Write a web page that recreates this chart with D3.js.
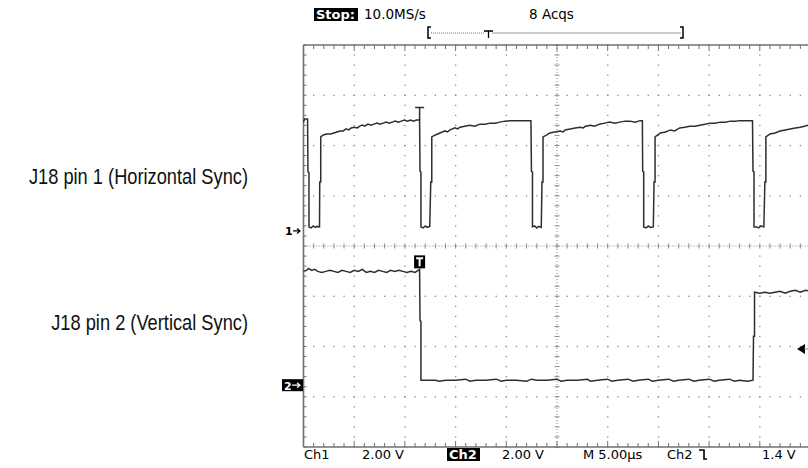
<!DOCTYPE html>
<html>
<head>
<meta charset="utf-8">
<script src="https://cdn.jsdelivr.net/npm/d3@7"></script>
<style>
  body { margin: 0; background: #fff; }
  svg { display: block; }
</style>
</head>
<body>
<div id="chart-area"></div>
<script>
// ---- data (time in us, volts) ----
var ch1 = [
  [0.00,4.33],[0.10,4.45],[0.40,4.45],[0.44,2.35],[0.54,2.33],[0.54,0.16],[0.75,0.12],[0.95,0.20],
  [1.15,0.14],[1.35,0.18],[1.58,0.16],[1.60,1.95],[1.70,1.95],[1.70,3.74],[1.95,3.82],[2.30,3.86],
  [2.70,3.86],[3.00,3.90],[3.30,3.94],[3.60,3.98],[3.90,3.98],[4.20,4.06],[4.45,4.02],[4.70,4.10],
  [5.00,4.13],[5.30,4.10],[5.55,4.17],[5.80,4.21],[6.05,4.17],[6.35,4.25],[6.65,4.21],[6.95,4.25],
  [7.25,4.29],[7.55,4.25],[7.85,4.29],[8.15,4.33],[8.45,4.29],[8.75,4.33],[9.05,4.37],[9.35,4.33],
  [9.65,4.37],[9.95,4.41],[10.25,4.37],[10.55,4.41],[10.85,4.37],[11.15,4.41],[11.45,4.41],
  [11.49,2.37],[11.58,2.35],[11.58,0.16],[11.80,0.12],[12.00,0.20],[12.20,0.14],[12.45,0.18],
  [12.55,1.95],[12.65,1.95],[12.65,3.74],[13.00,3.82],[13.46,3.90],[13.95,3.98],[14.20,3.94],
  [14.45,4.02],[14.94,4.10],[15.20,4.06],[15.43,4.13],[15.90,4.17],[16.42,4.21],[16.90,4.17],
  [17.40,4.25],[17.90,4.25],[18.39,4.29],[18.90,4.29],[19.37,4.33],[19.87,4.37],[20.46,4.39],
  [22.43,4.39],[22.48,2.37],[22.58,2.35],[22.58,0.16],[22.80,0.20],[23.00,0.12],[23.20,0.18],
  [23.45,0.14],[23.52,1.95],[23.62,1.95],[23.62,3.74],[24.00,3.82],[24.30,3.90],[24.80,3.94],
  [25.30,3.98],[25.60,3.94],[25.80,4.02],[26.30,4.06],[26.80,4.10],[27.30,4.13],[27.60,4.10],
  [27.80,4.17],[28.30,4.21],[28.70,4.17],[29.20,4.25],[29.70,4.29],[30.20,4.33],[30.70,4.29],
  [31.20,4.33],[31.70,4.37],[32.20,4.37],[32.70,4.33],[33.20,4.39],[33.42,4.39],[33.45,2.37],
  [33.55,2.35],[33.55,0.16],[33.80,0.12],[34.00,0.20],[34.20,0.14],[34.50,0.16],[34.57,1.95],
  [34.67,1.95],[34.67,3.74],[35.20,3.90],[35.70,3.94],[36.20,4.02],[36.60,3.98],[37.10,4.10],
  [37.60,4.13],[38.10,4.17],[38.60,4.17],[39.10,4.21],[39.60,4.25],[40.10,4.29],[40.60,4.29],
  [41.10,4.33],[41.60,4.33],[42.10,4.37],[42.60,4.37],[43.00,4.39],[44.28,4.39],[44.33,2.37],
  [44.43,2.35],[44.43,0.16],[44.70,0.16],[44.90,0.12],[45.10,0.20],[45.40,0.16],[45.50,1.95],
  [45.60,1.95],[45.60,3.74],[46.00,3.86],[46.50,3.90],[47.00,3.98],[47.50,4.02],[48.00,4.06],
  [48.50,4.10],[49.00,4.13],[49.40,4.17],[49.75,4.21],[50.00,4.25]
];

var ch2 = [
  [0.00,4.49],[0.30,4.53],[0.50,4.61],[0.80,4.53],[1.10,4.57],[1.40,4.49],[1.80,4.45],[2.20,4.49],
  [2.60,4.53],[3.00,4.49],[3.40,4.45],[3.80,4.53],[4.20,4.49],[4.60,4.45],[5.00,4.53],[5.40,4.49],
  [5.80,4.57],[6.20,4.45],[6.60,4.49],[7.00,4.45],[7.40,4.53],[7.80,4.49],[8.20,4.45],[8.60,4.53],
  [9.00,4.49],[9.40,4.53],[9.80,4.49],[10.20,4.45],[10.60,4.49],[11.00,4.45],[11.30,4.53],[11.45,4.57],
  [11.49,2.54],[11.58,2.50],[11.58,0.16],[12.20,0.16],[13.00,0.16],[13.40,0.12],[14.00,0.16],
  [15.00,0.16],[16.00,0.20],[16.40,0.12],[17.00,0.16],[18.00,0.16],[19.00,0.20],[19.50,0.12],
  [20.00,0.16],[21.00,0.16],[22.00,0.12],[22.50,0.20],[23.00,0.16],[24.00,0.16],[25.00,0.20],
  [25.40,0.12],[26.00,0.16],[27.00,0.16],[28.00,0.20],[28.30,0.12],[29.00,0.16],[30.00,0.20],
  [30.40,0.12],[31.00,0.16],[32.00,0.20],[32.50,0.12],[33.00,0.16],[34.00,0.20],[34.40,0.12],
  [35.00,0.16],[36.00,0.20],[36.50,0.12],[37.00,0.16],[38.00,0.20],[38.50,0.12],[39.00,0.16],
  [40.00,0.20],[40.50,0.12],[41.00,0.16],[42.00,0.20],[42.50,0.12],[43.00,0.16],[43.80,0.12],
  [44.33,0.16],[44.38,1.91],[44.48,1.91],[44.48,3.66],[45.00,3.62],[45.50,3.66],[46.00,3.62],
  [46.50,3.66],[47.00,3.70],[47.50,3.62],[48.00,3.70],[48.50,3.74],[49.00,3.66],[49.50,3.74],
  [50.00,3.70]
];

var channelLabels = ["J18 pin 1 (Horizontal Sync)", "J18 pin 2 (Vertical Sync)"];
var bottomTexts = ["Ch1", "2.00 V", "Ch2", "2.00 V", "M 5.00\u00b5s", "Ch2", "1.4 V"];
var voltsPerDiv = 2, usPerDiv = 5;
var ch1Pos = 0.3, ch2Pos = -2.75;   // ground offsets in divisions
var trigTime = 11.45, trigLevel = 1.4;

var W = 808, H = 468;
var svg = d3.select("#chart-area").append("svg")
    .attr("width", W).attr("height", H);

// Scales
var xDiv = d3.scaleLinear().domain([0, 10]).range([303.5, 810.5]);
var yDiv = d3.scaleLinear().domain([-4, 4]).range([447, 45]);
var x = d3.scaleLinear().domain([0, 10 * usPerDiv]).range(xDiv.range());
var y1 = function(v) { return yDiv(ch1Pos + v / voltsPerDiv); };
var y2 = function(v) { return yDiv(ch2Pos + v / voltsPerDiv); };

var gridCol = "#8a8a8a";
var grid = svg.append("g");

// dotted division lines
var minorX = d3.range(0, 50.01).map(function(i) { return i / 5; });
var minorY = d3.range(-20, 20.01).map(function(i) { return i / 5; });
[1,2,3,4,6,7,8,9,10].forEach(function(i) {
  grid.selectAll(null).data(minorY).enter().append("rect")
    .attr("x", xDiv(i) - 0.6).attr("y", function(d) { return yDiv(d) - 0.6; })
    .attr("width", 1.3).attr("height", 1.3).attr("fill", gridCol);
});
[-3,-2,-1,1,2,3].forEach(function(k) {
  grid.selectAll(null).data(minorX).enter().append("rect")
    .attr("x", function(d) { return xDiv(d) - 0.6; }).attr("y", yDiv(k) - 0.6)
    .attr("width", 1.3).attr("height", 1.3).attr("fill", gridCol);
});

// center crosshair
grid.append("line").attr("x1", xDiv(0)).attr("x2", xDiv(10))
  .attr("y1", yDiv(0)).attr("y2", yDiv(0))
  .attr("stroke", gridCol).attr("stroke-width", 1).attr("stroke-dasharray", "1,2");
grid.append("line").attr("x1", xDiv(5)).attr("x2", xDiv(5))
  .attr("y1", yDiv(4)).attr("y2", yDiv(-4))
  .attr("stroke", gridCol).attr("stroke-width", 1).attr("stroke-dasharray", "1,2");
grid.selectAll(null).data(minorX).enter().append("line")
  .attr("x1", function(d) { return xDiv(d); }).attr("x2", function(d) { return xDiv(d); })
  .attr("y1", yDiv(0) - 2.5).attr("y2", yDiv(0) + 2.5)
  .attr("stroke", gridCol).attr("stroke-width", 1);
grid.selectAll(null).data(minorY).enter().append("line")
  .attr("y1", function(d) { return yDiv(d); }).attr("y2", function(d) { return yDiv(d); })
  .attr("x1", xDiv(5) - 2.5).attr("x2", xDiv(5) + 2.5)
  .attr("stroke", gridCol).attr("stroke-width", 1);

// border + edge ticks
var borderCol = "#707070";
grid.append("line").attr("x1", xDiv(0)).attr("x2", xDiv(10)).attr("y1", yDiv(4)).attr("y2", yDiv(4))
  .attr("stroke", borderCol).attr("stroke-width", 1.6);
grid.append("line").attr("x1", xDiv(0)).attr("x2", xDiv(10)).attr("y1", yDiv(-4)).attr("y2", yDiv(-4))
  .attr("stroke", borderCol).attr("stroke-width", 1.6);
grid.append("line").attr("x1", xDiv(0)).attr("x2", xDiv(0)).attr("y1", yDiv(4)).attr("y2", yDiv(-4))
  .attr("stroke", borderCol).attr("stroke-width", 1.6);
grid.selectAll(null).data(minorX).enter().append("line")
  .attr("x1", function(d) { return xDiv(d); }).attr("x2", function(d) { return xDiv(d); })
  .attr("y1", yDiv(4)).attr("y2", function(d) { return yDiv(4) + (d % 1 === 0 ? 6 : 4); })
  .attr("stroke", borderCol).attr("stroke-width", 1);
grid.selectAll(null).data(minorX).enter().append("line")
  .attr("x1", function(d) { return xDiv(d); }).attr("x2", function(d) { return xDiv(d); })
  .attr("y1", yDiv(-4)).attr("y2", function(d) { return yDiv(-4) - (d % 1 === 0 ? 6 : 4); })
  .attr("stroke", borderCol).attr("stroke-width", 1);
grid.selectAll(null).data(minorY).enter().append("line")
  .attr("y1", function(d) { return yDiv(d); }).attr("y2", function(d) { return yDiv(d); })
  .attr("x1", xDiv(0)).attr("x2", xDiv(0) + 3)
  .attr("stroke", borderCol).attr("stroke-width", 1);

// traces
var traceCol = "#2e2e2e";
var line1 = d3.line().x(function(d) { return x(d[0]); }).y(function(d) { return y1(d[1]); });
var line2 = d3.line().x(function(d) { return x(d[0]); }).y(function(d) { return y2(d[1]); });
svg.append("path").datum(ch1).attr("d", line1)
  .attr("fill", "none").attr("stroke", traceCol).attr("stroke-width", 1.5);
svg.append("path").datum(ch2).attr("d", line2)
  .attr("fill", "none").attr("stroke", traceCol).attr("stroke-width", 1.5);

// trigger T on ch1
svg.append("path")
  .attr("d", "M" + (x(trigTime) - 4.5) + "," + y1(4.91) + "H" + (x(trigTime) + 4.5) +
        "M" + x(trigTime) + "," + y1(4.91) + "V" + y1(4.41))
  .attr("stroke", traceCol).attr("stroke-width", 1.5).attr("fill", "none");

// trigger T box on ch2
var tb = svg.append("g").attr("transform", "translate(" + (x(trigTime) - 5.5) + "," + (y2(4.57) - 14) + ")");
tb.append("rect").attr("width", 11).attr("height", 13).attr("fill", "#000");
tb.append("path").attr("d", "M2,3H9M5.5,3V11").attr("stroke", "#fff").attr("stroke-width", 2);

// ground markers
var mono = "DejaVu Sans, sans-serif";
svg.append("text").attr("x", 285).attr("y", y1(0) + 4.5).attr("font-family", mono)
  .attr("font-size", 11).attr("font-weight", "bold").text("1");
svg.append("path").attr("d", "M293," + y1(0) + "H300M297," + (y1(0) - 2.5) + "L300," + y1(0) + "L297," + (y1(0) + 2.5))
  .attr("stroke", "#000").attr("stroke-width", 1.2).attr("fill", "none");
svg.append("rect").attr("x", 282).attr("y", y2(0) - 5).attr("width", 21).attr("height", 12).attr("fill", "#000");
svg.append("text").attr("x", 284).attr("y", y2(0) + 5.5).attr("font-family", mono)
  .attr("font-size", 11).attr("font-weight", "bold").attr("fill", "#fff").text("2");
svg.append("path").attr("d", "M292," + (y2(0) + 1) + "H300M297," + (y2(0) - 1.5) + "L300," + (y2(0) + 1) + "L297," + (y2(0) + 3.5))
  .attr("stroke", "#fff").attr("stroke-width", 1.2).attr("fill", "none");

// trigger level arrow (right)
svg.append("path").attr("d", "M797," + y2(trigLevel) + "L805," + (y2(trigLevel) - 5) + "V" + (y2(trigLevel) + 5) + "Z")
  .attr("fill", "#000");
svg.append("line").attr("x1", 804).attr("x2", 808).attr("y1", y2(trigLevel)).attr("y2", y2(trigLevel))
  .attr("stroke", "#888");

// channel labels on the left (narrow face: regular face squeezed horizontally)
svg.selectAll(".chlabel").data(channelLabels).enter().append("text")
  .attr("class", "chlabel")
  .attr("transform", function(d, i) {
    return "translate(248," + (i === 0 ? 184 : 330) + ") scale(0.83,1)";
  })
  .attr("text-anchor", "end")
  .attr("font-family", "Liberation Sans, Arial, sans-serif")
  .attr("font-size", 22)
  .attr("fill", "#111")
  .text(function(d) { return d; });

// top readout
svg.append("rect").attr("x", 314).attr("y", 8).attr("width", 44).attr("height", 13).attr("fill", "#000");
svg.append("text").attr("x", 316).attr("y", 19).attr("font-family", mono).attr("font-size", 13)
  .attr("font-weight", "bold").attr("fill", "#fff").text("Stop:");
svg.append("text").attr("x", 364).attr("y", 19).attr("font-family", mono).attr("font-size", 13.5).text("10.0MS/s");
svg.append("text").attr("x", 529).attr("y", 19).attr("font-family", mono).attr("font-size", 13.5).text("8 Acqs");

// record bar
svg.append("path").attr("d", "M431,27H428V38H431").attr("stroke", "#000").attr("stroke-width", 1.5).attr("fill", "none");
svg.append("path").attr("d", "M680,27H683V38H680").attr("stroke", "#000").attr("stroke-width", 1.5).attr("fill", "none");
svg.append("line").attr("x1", 431).attr("x2", 484).attr("y1", 33).attr("y2", 33)
  .attr("stroke", "#777").attr("stroke-dasharray", "1,1");
svg.append("line").attr("x1", 492).attr("x2", 681).attr("y1", 33).attr("y2", 33).attr("stroke", "#999");
svg.append("path").attr("d", "M484,31H493M488.5,31V38").attr("stroke", "#000").attr("stroke-width", 1.3).attr("fill", "none");

// bottom readout
var bx = [304, 362, 449, 502, 583, 667, 762];
svg.append("rect").attr("x", 447).attr("y", 448).attr("width", 33).attr("height", 13).attr("fill", "#000");
svg.selectAll(".bt").data(bottomTexts).enter().append("text")
  .attr("class", "bt")
  .attr("x", function(d, i) { return bx[i]; })
  .attr("y", 458.5)
  .attr("font-family", mono)
  .attr("font-size", 13)
  .attr("font-weight", function(d, i) { return i === 2 ? "bold" : "normal"; })
  .attr("fill", function(d, i) { return i === 2 ? "#fff" : "#000"; })
  .text(function(d) { return d; });
// falling edge symbol
svg.append("path").attr("d", "M699,450H704V459H707").attr("stroke", "#000").attr("stroke-width", 1.6).attr("fill", "none");
</script>
</body>
</html>
